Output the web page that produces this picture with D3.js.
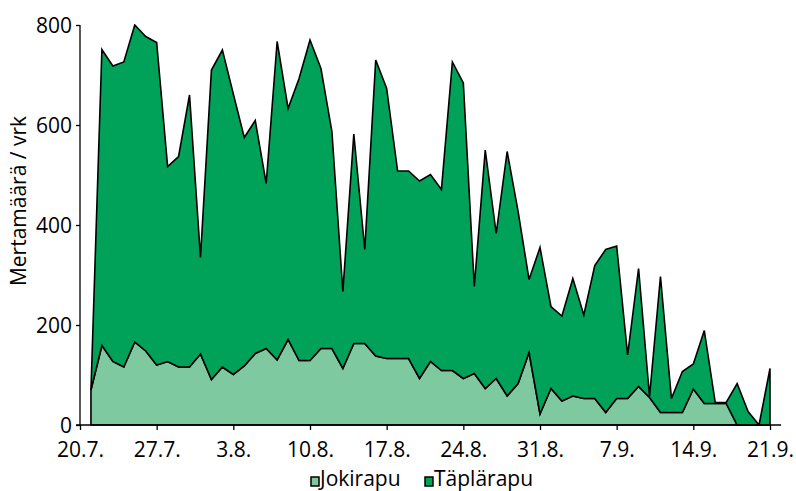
<!DOCTYPE html>
<html><head><meta charset="utf-8">
<script src="https://cdn.jsdelivr.net/npm/d3@7"></script>
<style>body{margin:0;background:#fff}svg{display:block}text{font-family:"Open Sans",sans-serif;fill:#000}</style>
</head><body><svg id="c" width="796" height="491"></svg>
<script>
const days = ["21.7.","22.7.","23.7.","24.7.","25.7.","26.7.","27.7.","28.7.","29.7.","30.7.","31.7.",
"1.8.","2.8.","3.8.","4.8.","5.8.","6.8.","7.8.","8.8.","9.8.","10.8.","11.8.","12.8.","13.8.","14.8.","15.8.",
"16.8.","17.8.","18.8.","19.8.","20.8.","21.8.","22.8.","23.8.","24.8.","25.8.","26.8.","27.8.","28.8.","29.8.",
"30.8.","31.8.","1.9.","2.9.","3.9.","4.9.","5.9.","6.9.","7.9.","8.9.","9.9.","10.9.","11.9.","12.9.","13.9.",
"14.9.","15.9.","16.9.","17.9.","18.9.","19.9.","20.9.","21.9."];
const jokirapu = [70,159,127,116,166,148,120,127,116,116,142,91,116,101,118,143,153,130,171,129,129,153,153,113,163,163,
138,133,133,133,93,127,109,109,93,103,73,93,58,83,145,22,73,48,58,53,53,25,53,53,77,55,25,25,25,72,43,43,43,0,0,0,0];
const taplarapu = [0,592,591,610,634,629,645,390,421,544,193,619,634,561,457,466,330,637,462,564,641,560,434,154,419,188,
592,540,375,375,395,374,362,617,591,174,477,290,489,344,146,333,164,170,235,167,266,326,305,87,236,2,272,28,82,50,146,
2,2,83,27,0,113];
const xTicks = ["20.7.","27.7.","3.8.","10.8.","17.8.","24.8.","31.8.","7.9.","14.9.","21.9."];
const yTicks = [0,200,400,600,800];
const seriesNames = ["Jokirapu","Täplärapu"];
const colors = ["#7fc9a0","#00a159"];

const parse = s => { const p = s.split("."); return new Date(Date.UTC(2000, +p[1]-1, +p[0])); };
const rows = days.map((d,i)=>({date:parse(d), Jokirapu:jokirapu[i], "Täplärapu":taplarapu[i]}));

const svg = d3.select("#c");
const x = d3.scaleUtc().domain([parse("20.7."), parse("21.9.")]).range([80, 770]);
const y = d3.scaleLinear().domain([0,800]).range([425,25]);

const stack = d3.stack().keys(seriesNames)(rows);
const area = d3.area().x(d=>x(d.data.date)).y0(d=>y(d[0])).y1(d=>y(d[1])).curve(d3.curveLinear);

svg.append("clipPath").attr("id","cp").append("rect").attr("x",0).attr("y",24).attr("width",796).attr("height",402);
const g = svg.append("g").attr("clip-path","url(#cp)");
g.selectAll("path.a").data(stack).join("path").attr("class","a")
  .attr("d", area).attr("fill",(d,i)=>colors[i]).attr("stroke","#000").attr("stroke-width",1.6).attr("stroke-linejoin","miter");

// y axis
const ya = svg.append("g").attr("transform","translate(80,0)")
  .call(d3.axisLeft(y).tickValues(yTicks).tickSize(4).tickPadding(4).tickFormat(d3.format("d")));
ya.select(".domain").attr("d","M0,25V425").attr("stroke","#000").attr("stroke-width",1.3);
ya.selectAll(".tick line").attr("stroke","#000").attr("stroke-width",1.3);
ya.selectAll(".tick text").attr("font-size",21).attr("font-family","Open Sans").attr("dy","0.36em").attr("fill","#000");

// x axis
const xa = svg.append("g").attr("transform","translate(0,425)")
  .call(d3.axisBottom(x).tickValues(xTicks.map(parse)).tickSize(5).tickPadding(12)
    .tickFormat((d,i)=>xTicks[i]));
xa.select(".domain").attr("d","M76,0H781").attr("stroke","#000").attr("stroke-width",1.3);
xa.selectAll(".tick line").attr("stroke","#000").attr("stroke-width",1.3);
xa.selectAll(".tick text").attr("font-size",21).attr("font-family","Open Sans").attr("fill","#000");

// y title
svg.append("text").attr("transform","translate(26,201) rotate(-90)").attr("text-anchor","middle")
  .attr("font-size",21).text("Mertamäärä / vrk");

// legend
const leg = [{x:311, tx:320},{x:425, tx:434}];
seriesNames.forEach((n,i)=>{
  svg.append("rect").attr("x",leg[i].x).attr("y",477).attr("width",8).attr("height",9)
    .attr("fill",colors[i]).attr("stroke","#000").attr("stroke-width",1.5);
  svg.append("text").attr("x",leg[i].tx).attr("y",486).attr("font-size",21).text(n);
});
</script></body></html>
